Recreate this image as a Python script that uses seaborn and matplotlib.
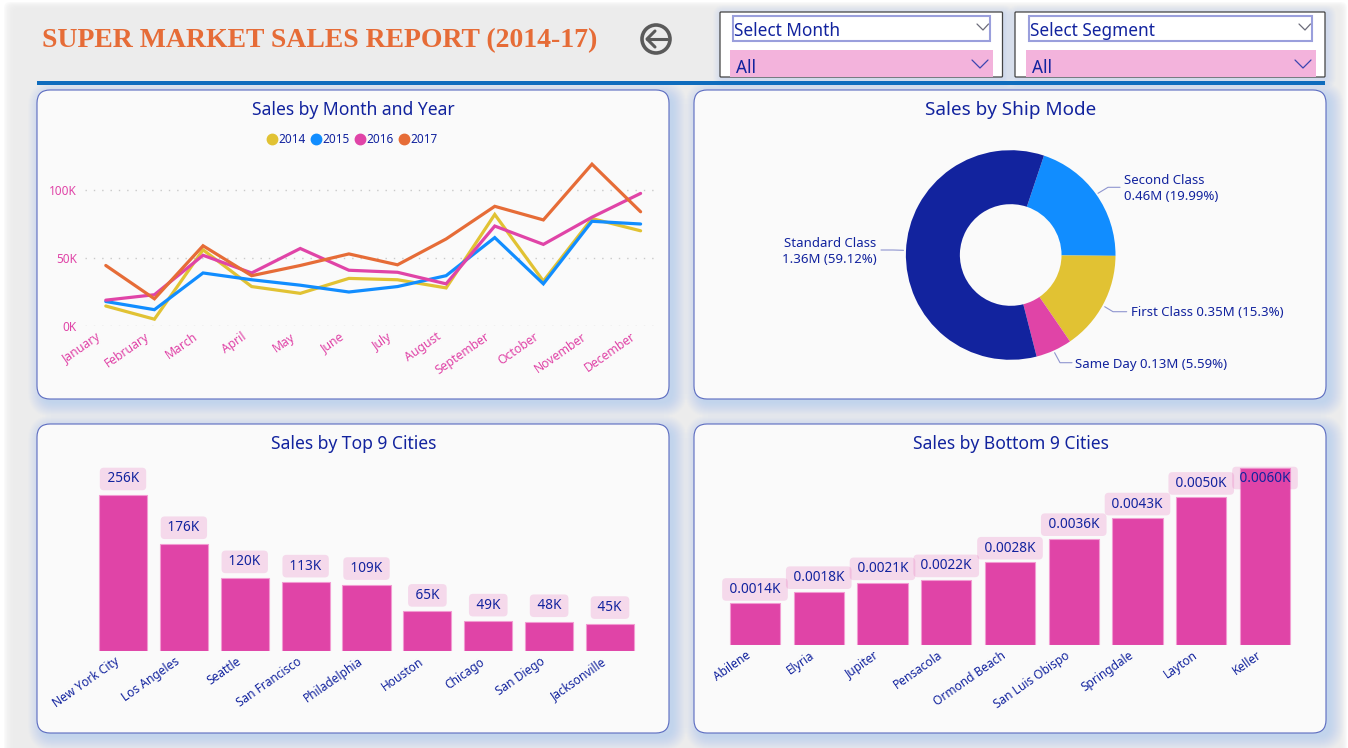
import matplotlib
matplotlib.use("Agg")
import matplotlib.pyplot as plt
from matplotlib.patches import FancyBboxPatch, Rectangle, Circle
from matplotlib.lines import Line2D
from matplotlib.transforms import ScaledTranslation
import numpy as np
import pandas as pd
import seaborn as sns

months = ["January","February","March","April","May","June","July","August","September","October","November","December"]
sales_2014 = [14.7,5,56,29,24,35,34,28,82,33,79,70]
sales_2015 = [18,12,39,34,30,25,29,37,65,31,77,75]
sales_2016 = [19,23,52,39,57,41,39.5,31,73.5,60,80,97.5]
sales_2017 = [44.5,20,59,37,44.5,53,45,64,88,78,119,84]
years = ["2014","2015","2016","2017"]

ship_modes = ["Second Class","First Class","Same Day","Standard Class"]
ship_share = [19.99,15.3,5.59,59.12]

top_cities = ["New York City","Los Angeles","Seattle","San Francisco","Philadelphia","Houston","Chicago","San Diego","Jacksonville"]
top_sales = [256,176,120,113,109,65,49,48,45]
bottom_cities = ["Abilene","Elyria","Jupiter","Pensacola","Ormond Beach","San Luis Obispo","Springdale","Layton","Keller"]
bottom_sales = [0.0014,0.0018,0.0021,0.0022,0.0028,0.0036,0.0043,0.0050,0.0060]

NAVY, BLUE, YEL, ORG, PINK = "#12239E", "#118DFF", "#E1C233", "#E66C37", "#E044A7"
FONT = "Noto Sans"
W, H = 1348, 748

sns.set_theme(style="white")
plt.rcParams["font.family"] = [FONT, "DejaVu Sans"]
fig = plt.figure(figsize=(W/100, H/100), dpi=100, facecolor="white")

bg = fig.add_axes([0, 0, 1, 1], zorder=-5)
bg.set_xlim(0, W); bg.set_ylim(H, 0); bg.axis("off")

def rrect(x0, y0, x1, y1, r=0, **kw):
    p = FancyBboxPatch((x0+r, y0+r), x1-x0-2*r, y1-y0-2*r,
                       boxstyle=f"round,pad={r},rounding_size={r}", **kw)
    bg.add_patch(p)
    return p

def pxaxes(x0, y0, x1, y1, **kw):
    return fig.add_axes([x0/W, 1-y1/H, (x1-x0)/W, (y1-y0)/H], **kw)

def shift(ax, dx):
    for t in ax.get_xticklabels():
        t.set_transform(t.get_transform() + ScaledTranslation(dx/100, 0, fig.dpi_scale_trans))

# page with a soft edge
for k in range(12):
    rrect(4+k*1.3, 2+k*0.9, 1347-k*1.0, 770, r=6, fc="#ECECEC", ec="none", alpha=0.22)
rrect(20, 13, 1335, 770, r=6, fc="#ECECEC", ec="none")

# header
bg.text(42, 40.5, "SUPER MARKET SALES REPORT (2014-17)", family="Liberation Serif", weight="bold",
        fontsize=20, color=ORG, va="center", ha="left")
bg.add_patch(Circle((656, 39), 14, fc="none", ec="#5a5a5a", lw=2.6))
bg.plot([647, 667], [39, 39], color="#5a5a5a", lw=2.2, solid_capstyle="round")
bg.plot([655, 647, 655], [31, 39, 47], color="#5a5a5a", lw=2.2, solid_capstyle="round", solid_joinstyle="round")

# slicers
def slicer(x0, x1, ix0, ix1, px0, px1, label):
    for k in range(9):
        rrect(x0-k+1, 12-k+1, x1+k+3, 77+k+3, r=3+k, fc="#4a9bf5", ec="none", alpha=0.016)
    rrect(x0, 12, x1, 77, r=1, fc="white", ec="#444444", lw=0.9)
    bg.add_patch(Rectangle((ix0, 16), ix1-ix0, 25, fc="white", ec="#9A9FDC", lw=1.5))
    bg.add_patch(Rectangle((px0, 49.5), px1-px0, 27, fc="#F3B3DC", ec="none"))
    bg.text(ix0+1.5, 31, label, color=NAVY, fontsize=12.4, va="center", ha="left")
    bg.text(px0+6, 67.5, "All", color=NAVY, fontsize=12.4, va="center", ha="left")
    bg.plot([ix1-13, ix1-7, ix1-1.5], [24, 30, 24], color="#6b6b7a", lw=0.9)
    bg.plot([px1-21, px1-13, px1-5], [60, 68, 60], color="#3b46b0", lw=0.9)

slicer(720, 1002.5, 732.5, 990, 730, 993, "Select Month")
slicer(1015, 1325, 1028.5, 1312, 1025.5, 1316, "Select Segment")
bg.add_patch(Rectangle((37, 81), 1288, 4, fc="#0F6CBD", ec="none"))

# cards
def card(x0, y0, x1, y1, title, tx, fs=12.6):
    for k in range(15):
        rrect(x0+4-k+1, y0+4-k+1, x1+5+k-1, y1+5+k-1, r=12+k, fc="#4a9bf5", ec="none", alpha=0.016)
    rrect(x0, y0, x1, y1, r=13, fc="#FAFAFA", ec="#5B6BC0", lw=0.8)
    bg.text(tx, y0+20, title, color=NAVY, fontsize=fs, ha="center", va="center")

card(37, 90, 669, 399, "Sales by Month and Year", 353.5)
card(694, 90, 1326, 399, "Sales by Ship Mode", 1010.5, fs=13.6)
card(37, 424, 669, 733, "Sales by Top 9 Cities", 353.5)
card(694, 424, 1326, 733, "Sales by Bottom 9 Cities", 1010.5)

def clean(ax):
    ax.patch.set_alpha(0)
    for s in ax.spines.values():
        s.set_visible(False)
    ax.set_xlabel(""); ax.set_ylabel("")

# line chart
x0, x1, yb, yt = 85, 660, 326, 150
j0, step = 105.8, (640.6-105.8)/11
ax = pxaxes(x0, yt, x1, yb)
df = pd.DataFrame({"Month": months, "2014": sales_2014, "2015": sales_2015, "2016": sales_2016, "2017": sales_2017})
long = df.melt("Month", var_name="Year", value_name="Sales")
palette = dict(zip(years, [YEL, BLUE, PINK, ORG]))
sns.lineplot(data=long, x="Month", y="Sales", hue="Year", palette=palette, sort=False, lw=2.3,
             ax=ax, legend=False, solid_joinstyle="miter", clip_on=False)
ax.set_xlim((x0-j0)/step, (x1-j0)/step)
ax.set_ylim(0, (yb-yt)/1.36)
ax.set_yticks([0, 50, 100], ["0K", "50K", "100K"])
ax.yaxis.grid(True, color="#c9c9c9", lw=1, ls=(0, (1, 5)))
ax.set_axisbelow(True)
clean(ax)
ax.tick_params(axis="y", colors=PINK, labelsize=8.5, length=0, pad=6)
ax.tick_params(axis="x", length=0, pad=3)
ax.set_xticks(range(12))
ax.set_xticklabels(months, rotation=35, ha="right", va="top", rotation_mode="anchor", color=PINK, fontsize=8.8)
shift(ax, -10)
handles = [Line2D([], [], ls="none", marker="o", ms=7.5, color=palette[y], label=y) for y in years]
fig.legend(handles=handles, loc="center", bbox_to_anchor=(351.5/W, 1-139.5/H), ncol=4, frameon=False,
           fontsize=8.5, handletextpad=0.0, columnspacing=0.3, labelcolor=NAVY, handlelength=1.1)

# donut
ax = pxaxes(1010.7-104.8, 255-104.8, 1010.7+104.8, 255+104.8)
ax.pie(ship_share, startangle=71.5, counterclock=False, radius=1, colors=[BLUE, YEL, PINK, NAVY],
       wedgeprops=dict(width=0.515, linewidth=0))
ax.set_xlim(-1, 1); ax.set_ylim(-1, 1)
ax.patch.set_alpha(0)

pie_labels = [
    ("Second Class\n0.46M (19.99%)", 1124, 188.5, "left", (1098, 193.3), (1108, 187.3), (1120, 187.3)),
    ("First Class 0.35M (15.3%)", 1131, 312.5, "left", (1104.7, 306.7), (1113, 311.7), (1126.7, 311.7)),
    ("Same Day 0.13M (5.59%)", 1075, 364.5, "left", (1054.6, 352.7), (1060, 362.7), (1072, 362.7)),
    ("Standard Class\n1.36M (59.12%)", 876.5, 251.5, "right", (903.5, 250.3), (893, 250), (881, 250)),
]
for txt, tx, ty, ha, a, b, c in pie_labels:
    bg.plot([a[0], b[0], c[0]], [a[1], b[1], c[1]], color="#8f95cf", lw=0.8)
    bg.text(tx, ty, txt, color=NAVY, fontsize=9.5, ha=ha, va="center", multialignment=ha, linespacing=1.3)

# bar charts
def bars(cities, vals, c0, c1, yb, yt, x0, x1, width, scale, fmt, off):
    step = (c1-c0)/8
    ax = pxaxes(x0, yt, x1, yb)
    d = pd.DataFrame({"City": cities, "Sales": vals})
    sns.barplot(data=d, x="City", y="Sales", color=PINK, saturation=1, width=width, ax=ax,
                edgecolor="#F29BD2", linewidth=0.8)
    ax.set_xlim((x0-c0)/step, (x1-c0)/step)
    ax.set_ylim(0, (yb-yt)/scale)
    clean(ax)
    ax.set_yticks([])
    ax.tick_params(axis="x", length=0, pad=3)
    ax.set_xticks(range(9))
    ax.set_xticklabels(cities, rotation=35, ha="right", va="top", rotation_mode="anchor", color=NAVY, fontsize=8.6)
    shift(ax, -9)
    for i, v in enumerate(vals):
        o = -10 if v == max(vals) and off == 14 else off
        ax.annotate("\u00a0" + fmt(v) + "\u00a0", (i, v), xytext=(0, o*0.72), textcoords="offset points",
                    ha="center", va="center", color=NAVY, fontsize=9.8, zorder=6,
                    bbox=dict(boxstyle="round,pad=0.28,rounding_size=0.3", fc="#E044A7", alpha=0.18, ec="none"))
    return ax

bars(top_cities, top_sales, 123, 610, 651, 460, 90, 650, 0.79, 156/256, lambda v: f"{v}K", 16)
bars(bottom_cities, bottom_sales, 755, 1265, 644.7, 450, 720, 1300, 0.785, 176.7/0.006, lambda v: f"{v:.4f}K", 14)

fig.savefig("out.png", dpi=100, facecolor="white")
